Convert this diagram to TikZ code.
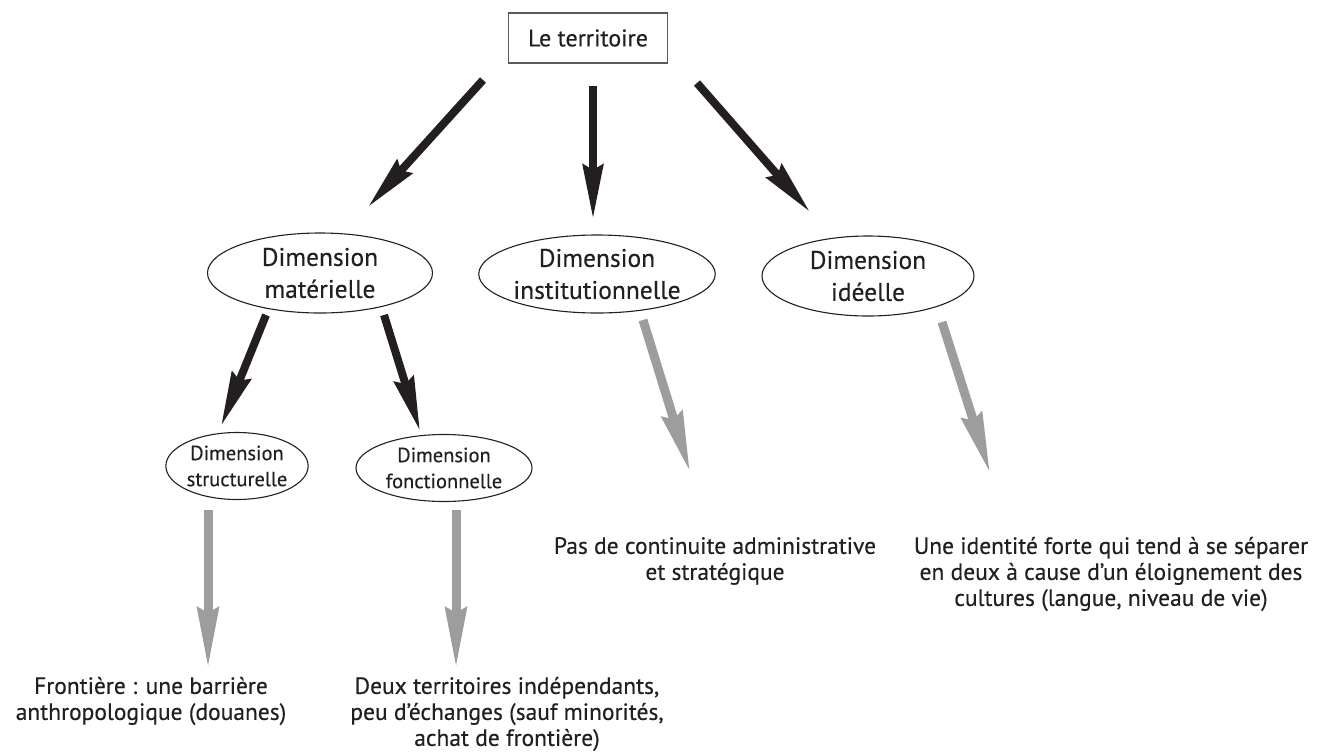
\documentclass[tikz,border=0pt]{standalone}
\usepackage{fontspec}
\setmainfont{PT Sans}[FakeBold=0.35]
\usetikzlibrary{arrows.meta,shapes.geometric}
\definecolor{ink}{HTML}{231F20}
\definecolor{arrowgray}{HTML}{9D9D9D}
\definecolor{boxgray}{HTML}{5A5A5A}
\tikzset{
  titlebox/.style={draw=boxgray, line width=1.4pt, minimum width=159pt, minimum height=50pt, inner sep=0pt, text=ink, font=\fontsize{24}{28}\selectfont},
  bigell/.style={ellipse, draw=ink, line width=1.1pt, inner sep=0pt, align=center, text=ink, font=\fontsize{25.5}{32}\selectfont},
  smallell/.style={ellipse, draw=ink, line width=1.1pt, inner sep=0pt, align=center, text=ink, font=\fontsize{20.5}{26}\selectfont},
  note/.style={align=center, inner sep=0pt, text=ink, font=\fontsize{23.5}{26}\selectfont},
  blackarrow/.style={draw=ink, line width=8pt, -{Stealth[length=54pt,width=20pt,inset=5pt]}},
  grayarrow/.style={draw=arrowgray, line width=9pt, -{Stealth[length=60pt,width=21pt,inset=5pt]}},
}
\begin{document}
\begin{tikzpicture}[x=1pt,y=-1pt]
\useasboundingbox (0,0) rectangle (1317,753);
% nodes
\node[titlebox] (top) at (588,38) {Le territoire};
\node[bigell, minimum width=225pt, minimum height=80pt] (mat) at (320,273) {Dimension\\matérielle};
\node[bigell, minimum width=223pt, minimum height=78pt] (inst) at (597,274) {Dimension\\institutionnelle};
\node[bigell, minimum width=212pt, minimum height=80pt] (idee) at (868,276) {Dimension\\idéelle};
\node[smallell, minimum width=120pt, minimum height=67pt] (struct) at (237,466) {Dimension\\structurelle};
\node[smallell, minimum width=176pt, minimum height=67pt] (fonct) at (444,468) {Dimension\\fonctionnelle};
\node[note] (tinst) at (715,561) {Pas de continuite administrative\\et stratégique};
\node[note] (tidee) at (1111,574) {Une identité forte qui tend à se séparer\\en deux à cause d’un éloignement des\\cultures (langue, niveau de vie)};
\node[note] (tstruct) at (151,701) {Frontière : une barrière\\anthropologique (douanes)};
\node[note] (tfonct) at (507,714) {Deux territoires indépendants,\\peu d’échanges (sauf minorités,\\achat de frontière)};
% arrow end points
\coordinate (a1s) at (483,80);   \coordinate (a1e) at (368,207);
\coordinate (a2s) at (593,86);   \coordinate (a2e) at (593,219);
\coordinate (a3s) at (697,83);   \coordinate (a3e) at (810,212);
\coordinate (a4s) at (266,315);  \coordinate (a4e) at (221,426);
\coordinate (a5s) at (384,315);  \coordinate (a5e) at (420,431);
\coordinate (g1s) at (643,320);  \coordinate (g1e) at (690,472);
\coordinate (g2s) at (942,322);  \coordinate (g2e) at (990,473);
\coordinate (g3s) at (208,510);  \coordinate (g3e) at (208,668);
\coordinate (g4s) at (456,510);  \coordinate (g4e) at (456,668);
% connectors
\draw[blackarrow] (a1s) -- (a1e);
\draw[blackarrow] (a2s) -- (a2e);
\draw[blackarrow] (a3s) -- (a3e);
\draw[blackarrow] (a4s) -- (a4e);
\draw[blackarrow] (a5s) -- (a5e);
\draw[grayarrow] (g1s) -- (g1e);
\draw[grayarrow] (g2s) -- (g2e);
\draw[grayarrow] (g3s) -- (g3e);
\draw[grayarrow] (g4s) -- (g4e);
\end{tikzpicture}
\end{document}
